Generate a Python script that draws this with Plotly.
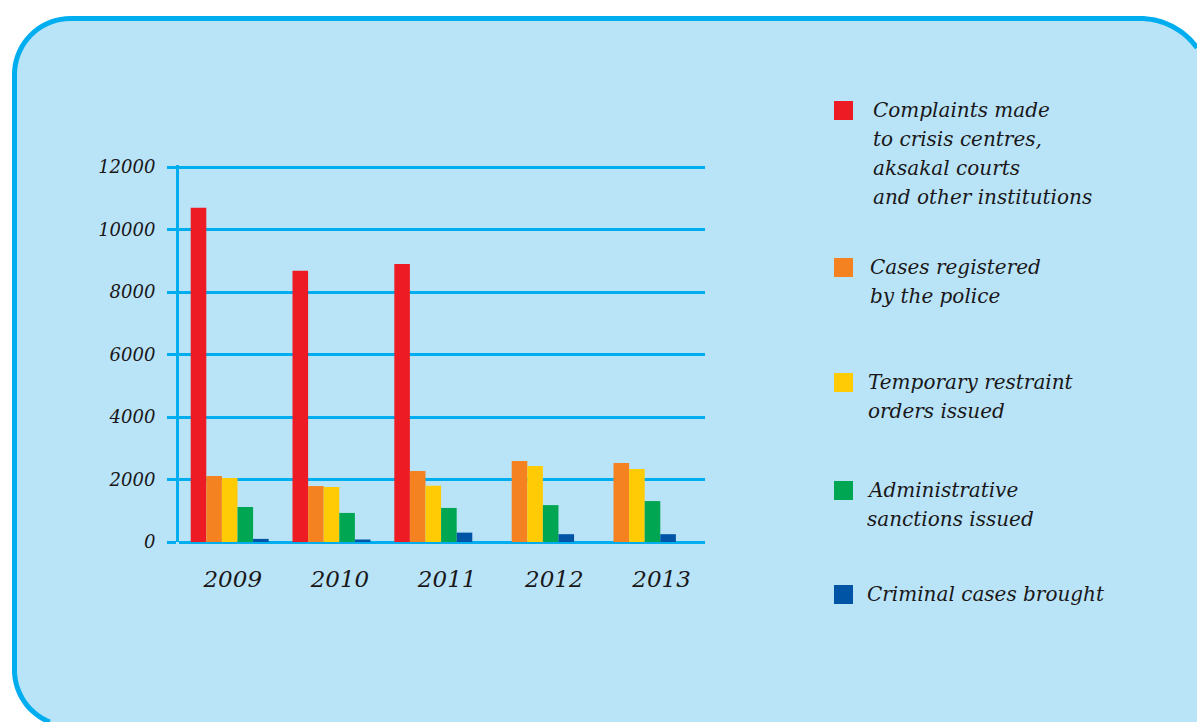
import math
import plotly.graph_objects as go

W, H = 1197, 722

years = ["2009", "2010", "2011", "2012", "2013"]
series_names = [
    "Complaints made to crisis centres, aksakal courts and other institutions",
    "Cases registered by the police",
    "Temporary restraint orders issued",
    "Administrative sanctions issued",
    "Criminal cases brought",
]
legend_lines = [
    ["Complaints made", "to crisis centres,", "aksakal courts", "and other institutions"],
    ["Cases registered", "by the police"],
    ["Temporary restraint", "orders issued"],
    ["Administrative", "sanctions issued"],
    ["Criminal cases brought"],
]
complaints = [10700, 8680, 8900, None, None]
police_cases = [2110, 1790, 2270, 2590, 2530]
restraint_orders = [2050, 1760, 1800, 2430, 2340]
admin_sanctions = [1120, 930, 1090, 1180, 1310]
criminal_cases = [100, 80, 300, 250, 250]
y_ticks = [0, 2000, 4000, 6000, 8000, 10000, 12000]

series_values = [complaints, police_cases, restraint_orders, admin_sanctions, criminal_cases]
colors = ["#ED1C24", "#F58220", "#FFCB05", "#00A651", "#0054A6"]

FONT = "DejaVu Serif"
TXT = "#1A1718"
BLUE = "#00AEEF"
FILL = "#B9E4F8"


def px(x):
    return x / W


def py(y):
    return 1 - y / H


def arc(cx, cy, r, a0, a1, n=18):
    """points on a circle (pixel coords, y down), angles in degrees"""
    out = []
    for i in range(n + 1):
        a = math.radians(a0 + (a1 - a0) * i / n)
        out.append((cx + r * math.cos(a), cy + r * math.sin(a)))
    return out


def to_path(points, close=False):
    s = "M " + " L ".join(f"{px(a):.5f},{py(b):.5f}" for a, b in points)
    return s + (" Z" if close else "")


fig = go.Figure()
xs = list(range(len(years)))
for name, vals, col in zip(series_names, series_values, colors):
    fig.add_trace(go.Bar(x=xs, y=vals, name=name, marker=dict(color=col, line=dict(width=0)),
                         showlegend=False, hoverinfo="skip"))

# rounded panel (runs off the right and bottom edges of the page)
L, T, rl, rr = 14.5, 18.5, 56, 70
cx_tr, cy_tr = 1140, T + rr
a_tr = math.degrees(math.acos((W - cx_tr) / rr))  # angle where the arc meets the right edge
cx_bl, cy_bl = L + rl, 670
a_bl = math.degrees(math.asin((H - cy_bl) / rl))  # angle where the arc meets the bottom edge

top_right = arc(cx_tr, cy_tr, rr, -90, -a_tr)
top_left = arc(L + rl, T + rl, rl, -180, -90)
bottom_left = arc(cx_bl, cy_bl, rl, 180, 180 - a_bl)

fill_pts = top_left + top_right + [(W, H)] + bottom_left[::-1]
border_pts = top_right[::-1] + top_left[::-1] + bottom_left
shapes = [
    dict(type="path", path=to_path(fill_pts, close=True), xref="paper", yref="paper",
         layer="below", fillcolor=FILL, line=dict(width=0)),
    dict(type="path", path=to_path(border_pts), xref="paper", yref="paper",
         layer="below", fillcolor="rgba(0,0,0,0)", line=dict(color=BLUE, width=5)),
]

annotations = []
sq_tops = [101, 258, 373, 481, 585]
text_x = [871, 868, 866, 865, 865]
for i, (lines, col) in enumerate(zip(legend_lines, colors)):
    top = sq_tops[i]
    shapes.append(dict(type="rect", xref="paper", yref="paper", x0=px(834), x1=px(853),
                       y0=py(top + 19), y1=py(top), fillcolor=col, line=dict(width=0)))
    for j, line in enumerate(lines):
        annotations.append(dict(text=f"<i>{line}</i>", xref="paper", yref="paper",
                                x=px(text_x[i]), y=py(top + 9 + 29 * j), xanchor="left",
                                yanchor="middle", showarrow=False,
                                font=dict(family=FONT, size=20, color=TXT)))

# y range slightly above 12000 so the top grid line is drawn
y_top = 12060
y_top_px = 542 - 375 * y_top / 12000

fig.update_layout(
    width=W, height=H,
    margin=dict(l=0, r=0, t=0, b=0, pad=0, autoexpand=False),
    paper_bgcolor="white",
    plot_bgcolor="rgba(0,0,0,0)",
    barmode="group",
    bargap=0.234,
    bargroupgap=0,
    showlegend=False,
    shapes=shapes,
    annotations=annotations,
    xaxis=dict(
        domain=[px(179), px(705)],
        range=[-0.498, 4.669],
        tickvals=[i + 0.03 + 0.053 * i for i in xs],
        ticktext=[f"<i>{y}</i>" for y in years],
        tickfont=dict(family=FONT, size=23, color=TXT),
        showgrid=False, zeroline=False, showline=False, ticks="",
        ticklabelstandoff=21, automargin=False,
    ),
    yaxis=dict(
        domain=[py(542), py(y_top_px)],
        range=[0, y_top],
        tickvals=y_ticks,
        ticktext=[f"<i>{v}</i>" for v in y_ticks],
        tickfont=dict(family=FONT, size=18, color=TXT),
        showgrid=True, gridcolor=BLUE, gridwidth=3,
        zeroline=True, zerolinecolor=BLUE, zerolinewidth=3,
        showline=True, linecolor=BLUE, linewidth=3,
        ticks="outside", ticklen=9, tickwidth=3, tickcolor=BLUE,
        ticklabelstandoff=8, automargin=False,
    ),
)

fig.write_html("out.html",
               config={"displayModeBar": False},
               post_script="document.body.style.margin='0';document.body.style.overflow='hidden';")
